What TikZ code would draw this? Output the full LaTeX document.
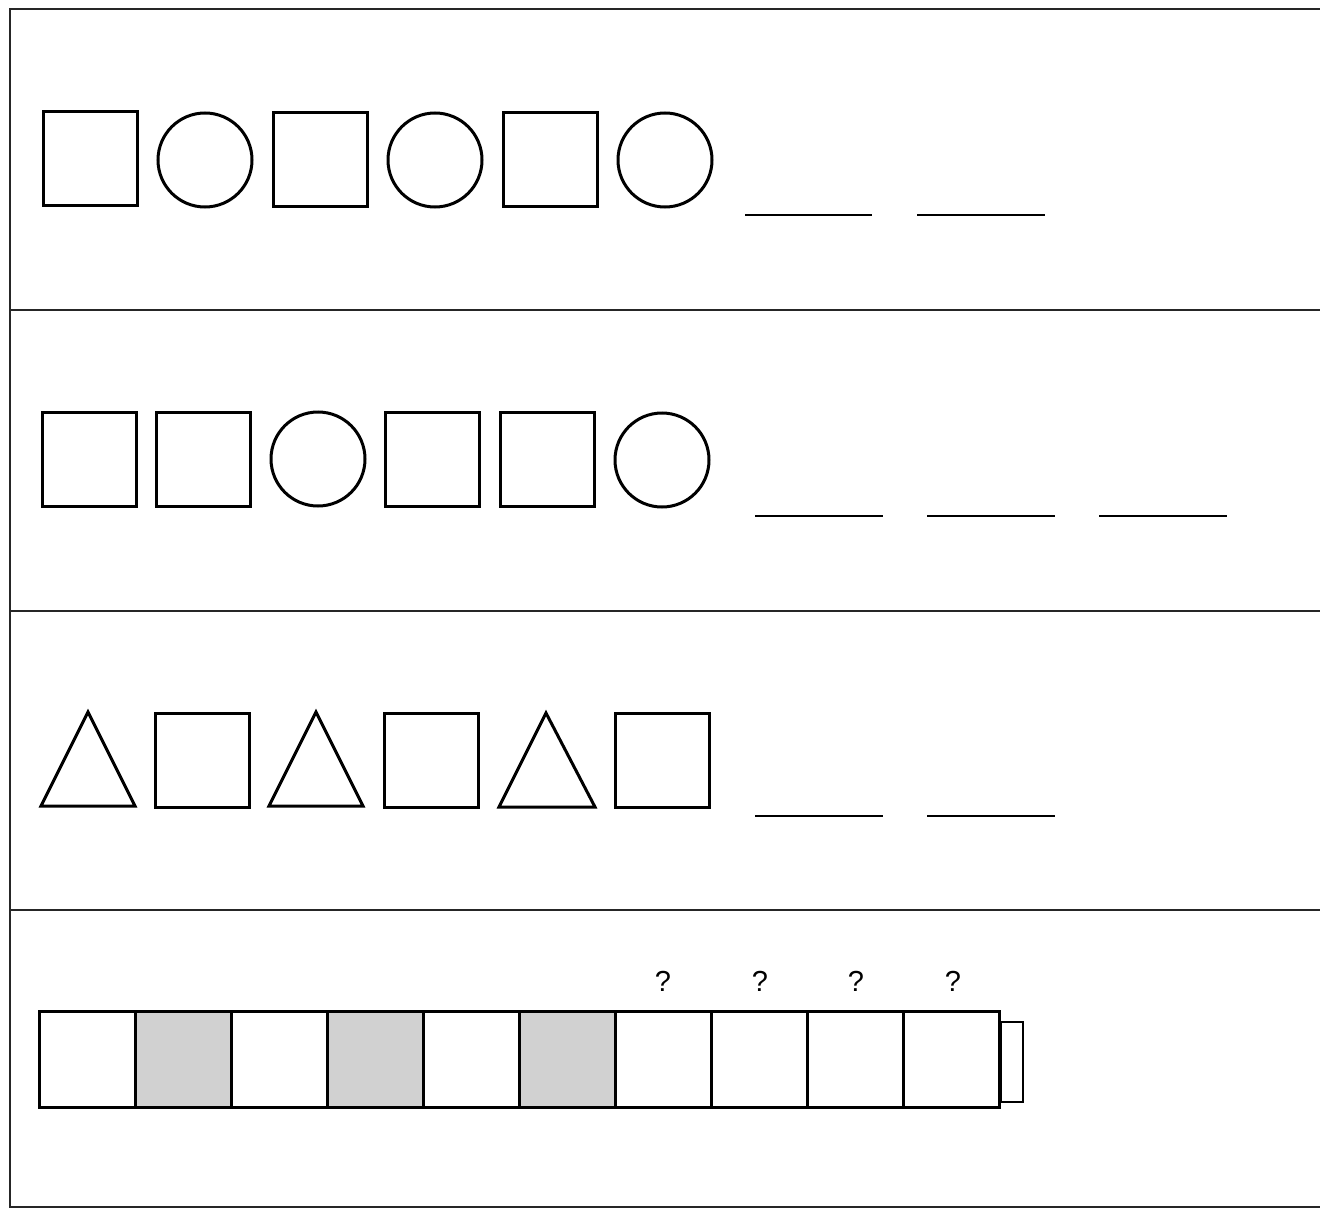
\documentclass[tikz,border=0pt]{standalone}
\usepackage{fontspec}
\setmainfont{Liberation Sans}
\begin{document}
\begin{tikzpicture}[x=1pt,y=-1pt,
  frame/.style={line width=2.6pt, black!85},
  sq/.style={draw, line width=3pt, minimum size=94pt, inner sep=0pt, outer sep=0pt},
  circ/.style={draw, circle, line width=3pt, minimum size=94pt, inner sep=0pt, outer sep=0pt},
  tri/.style={line width=3pt, line join=miter},
  blank/.style={line width=2.4pt},
  cell/.style={draw, line width=3pt, minimum width=96pt, minimum height=96pt, inner sep=0pt, outer sep=0pt},
  shaded/.style={cell, fill=black!18},
  qm/.style={font=\fontsize{29}{31}\selectfont, inner sep=0pt}]
\useasboundingbox (0,0) rectangle (1320,1209);
% frame
\coordinate (tl) at (10,9);
\coordinate (tr) at (1320,9);
\coordinate (bl) at (10,1207);
\coordinate (br) at (1320,1207);
\draw[frame] (tr) -- (tl) -- (bl) -- (br);
\foreach \y in {310,611,910} \draw[frame] (10,\y) -- (1320,\y);
% row 1
\node[sq] (a1) at (90,158.5) {};
\node[circ] (a2) at (205,160) {};
\node[sq] (a3) at (320,160) {};
\node[circ] (a4) at (435,160) {};
\node[sq] (a5) at (550,160) {};
\node[circ] (a6) at (665,160) {};
\draw[blank] (745,215) -- (872,215);
\draw[blank] (917,215) -- (1045,215);
% row 2
\node[sq] (b1) at (89,459) {};
\node[sq] (b2) at (203.5,459) {};
\node[circ] (b3) at (318,459) {};
\node[sq] (b4) at (432.5,459) {};
\node[sq] (b5) at (547,459) {};
\node[circ] (b6) at (662,460) {};
\draw[blank] (755,516) -- (883,516);
\draw[blank] (927,516) -- (1055,516);
\draw[blank] (1099,516) -- (1227,516);
% row 3
\draw[tri] (41,806) -- (88,712) -- (135,806) -- cycle;
\node[sq] (c2) at (202,760) {};
\draw[tri] (269,806) -- (316,712) -- (363,806) -- cycle;
\node[sq] (c4) at (431,760) {};
\draw[tri] (499,807) -- (546,713) -- (595,807) -- cycle;
\node[sq] (c6) at (662.5,760.5) {};
\draw[blank] (755,816) -- (883,816);
\draw[blank] (927,816) -- (1055,816);
% row 4
\node[cell]   (d1)  at (87,1059) {};
\node[shaded] (d2)  at (183,1059) {};
\node[cell]   (d3)  at (279,1059) {};
\node[shaded] (d4)  at (375,1059) {};
\node[cell]   (d5)  at (471,1059) {};
\node[shaded] (d6)  at (567,1059) {};
\node[cell]   (d7)  at (663,1059) {};
\node[cell]   (d8)  at (759,1059) {};
\node[cell]   (d9)  at (855,1059) {};
\node[cell]   (d10) at (951.5,1059) {};
\node[draw, line width=2.6pt, minimum width=22pt, minimum height=80pt, inner sep=0pt, outer sep=0pt, anchor=west] (cap) at (1001,1062) {};
\node[qm] (q7)  at (663,981) {?};
\node[qm] (q8)  at (760,981) {?};
\node[qm] (q9)  at (856,981) {?};
\node[qm] (q10) at (953,981) {?};
\end{tikzpicture}
\end{document}
